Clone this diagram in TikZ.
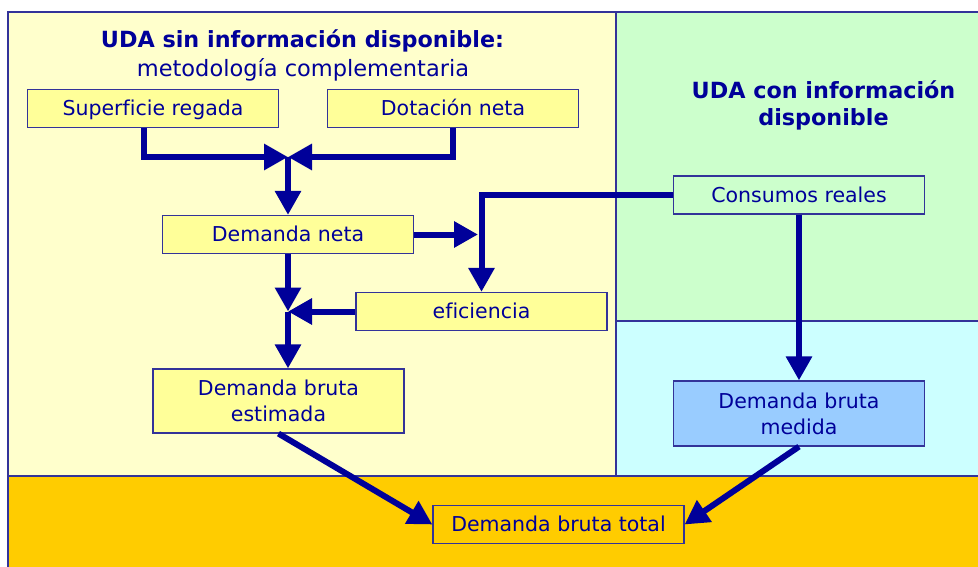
\documentclass[tikz,border=0pt]{standalone}
\usepackage{fontspec}
\setmainfont{DejaVu Sans}[Ligatures=CommonOff]
\usetikzlibrary{arrows.meta}
\definecolor{navy}{HTML}{000099}
\definecolor{bordercol}{HTML}{333399}
\definecolor{panelY}{HTML}{FFFFCC}
\definecolor{panelG}{HTML}{CCFFCC}
\definecolor{panelC}{HTML}{CCFFFF}
\definecolor{panelO}{HTML}{FFCC00}
\definecolor{boxY}{HTML}{FFFF99}
\definecolor{boxB}{HTML}{99CCFF}
\tikzset{
  txt/.style={text=navy, font=\fontsize{20.5}{26}\selectfont, inner sep=0pt, align=center},
  sub/.style={text=navy, font=\fontsize{22.5}{27}\selectfont, inner sep=0pt, align=center},
  ttl/.style={text=navy, font=\fontsize{22.3}{27}\selectfont\bfseries, inner sep=0pt, align=center},
  box/.style={txt, draw=bordercol, line width=1.2pt, fill=boxY, minimum width=251pt, minimum height=38pt},
  one/.style={text height=16pt, text depth=1.5pt},
  panel/.style={draw=bordercol, line width=1.5pt},
  arr/.style={draw=navy, line width=6pt, -{Triangle[length=24pt,width=25pt]}},
}
\begin{document}
\begin{tikzpicture}[x=1pt,y=-1pt]
\useasboundingbox (0,0) rectangle (978,567);
\fill[white] (0,0) rectangle (978,567);
% panels
\fill[panelY] (8,12) rectangle (616,476);
\fill[panelG] (616,12) rectangle (980,321);
\fill[panelC] (616,321) rectangle (980,476);
\fill[panelO] (8,476) rectangle (980,569);
\draw[panel] (8,569) -- (8,12) -- (980,12);
\draw[panel] (616,12) -- (616,476);
\draw[panel] (616,321) -- (980,321);
\draw[panel] (8,476) -- (980,476);
% titles
\node[ttl, anchor=base] (t1) at (302.5,48) {UDA sin información disponible:};
\node[sub, anchor=base] (t2) at (303,77) {metodología complementaria};
\node[ttl] (t3) at (823.5,105) {UDA con información\\disponible};
% boxes
\node[box, one] (sup) at (153,108.5) {Superficie regada};
\node[box, one] (dot) at (453,108.5) {Dotación neta};
\node[box, one] (dn) at (288,234.5) {Demanda neta};
\node[box, one] (ef) at (481.5,311.5) {eficiencia};
\node[box, minimum height=64pt] (est) at (278.5,401) {Demanda bruta\\estimada};
\node[box, one, fill=none] (cr) at (799,195) {Consumos reales};
\node[box, fill=boxB, minimum height=65pt] (med) at (799,413.5) {Demanda bruta\\medida};
\node[box, one, fill=none] (tot) at (558.5,524.5) {Demanda bruta total};
% junctions
\coordinate (m1) at (288,157);
\coordinate (j1) at (478,234.5);
\coordinate (m2) at (288,311.5);
% connectors
\draw[arr] ([xshift=-9pt]sup.south) |- (m1);
\draw[arr] (dot.south) |- (m1);
\draw[arr] (m1) -- (dn.north);
\draw[arr] (cr.west) -| (ef.north);
\draw[arr] (dn.east) -- (j1);
\draw[arr] (dn.south) -- (m2);
\draw[arr] (ef.west) -- (m2);
\draw[arr] (m2) -- (m2 |- est.north);
\draw[arr] (cr.south) -- (med.north);
\draw[arr] (est.south) -- (tot.west);
\draw[arr] (med.south) -- (tot.east);
\end{tikzpicture}
\end{document}
